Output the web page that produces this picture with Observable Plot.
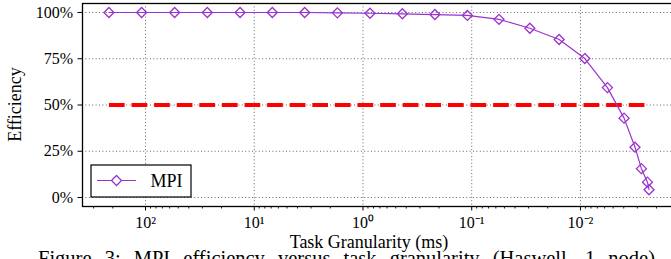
<!DOCTYPE html>
<html><head><meta charset="utf-8">
<script src="https://cdn.jsdelivr.net/npm/d3@7"></script>
<script src="https://cdn.jsdelivr.net/npm/@observablehq/plot@0.6"></script>
<style>
html,body{margin:0;padding:0;overflow:hidden;background:#fff;}
body{width:671px;height:259px;font-family:"Liberation Serif",serif;}
#chart{width:700px;height:252px;overflow:visible;}
#caption{font-family:"Liberation Serif",serif;font-size:20.5px;line-height:20px;word-spacing:8px;white-space:nowrap;margin-left:38px;margin-top:-4px;color:#000;}
svg{display:block;max-width:none !important;width:700px !important;height:252px !important;}
svg, svg text, svg g{font-family:"Liberation Serif",serif !important;font-variant:normal !important;font-variant-numeric:normal !important;}
</style></head><body>
<div id="chart"></div>
<div id="caption">Figure 3: MPI efficiency versus task granularity (Haswell, 1 node)</div>
<script>
// Task granularity (ms) and efficiency (%)
const granularity = [217, 108.6, 54, 27, 13.5, 6.82, 3.44, 1.72, 0.862, 0.434, 0.218, 0.1096, 0.0561, 0.0292, 0.0157, 0.00912, 0.00565, 0.00397, 0.00315, 0.00275, 0.00242, 0.00234];
const efficiency  = [100, 100, 100, 100, 100, 100, 100, 99.8, 99.6, 99.3, 98.9, 98.4, 96.3, 91.5, 85.4, 75.1, 59.4, 42.9, 27.2, 15.6, 8.3, 4.2];
const thresholdValue = 50;
const seriesName = "MPI";
const xTicks = [100, 10, 1, 0.1, 0.01];
const xTickLabels = ["10²", "10¹", "10⁰", "10⁻¹", "10⁻²"];
const yTicks = [0, 25, 50, 75, 100];
const yTickLabels = ["0%", "25%", "50%", "75%", "100%"];
const xLabel = "Task Granularity (ms)";
const yLabel = "Efficiency";

const data = granularity.map((g, i) => ({g, e: efficiency[i]}));
const threshold = [
  {g: granularity[0], e: thresholdValue},
  {g: granularity[granularity.length - 1], e: thresholdValue}
];
const minorTicks = [];
for (let k = -3; k <= 2; k++) for (let m = 2; m <= 9; m++) minorTicks.push(m * Math.pow(10, k));

const purple = "#9933cc";
const W = 700, H = 252;
const plot = Plot.plot({
  width: W, height: H,
  marginLeft: 82, marginRight: 0, marginTop: 3, marginBottom: H - 206,
  style: {fontFamily: "'Liberation Serif', serif", fontSize: "16px", fontVariant: "normal", background: "white", color: "black", overflow: "visible"},
  x: {type: "log", domain: [379.8, 0.000787], label: null},
  y: {domain: [-4.86, 104.86], label: null},
  marks: [
    Plot.gridX(xTicks, {stroke: "#555", strokeOpacity: 1, strokeWidth: 0.9, strokeDasharray: "1,2.4"}),
    Plot.gridY(yTicks, {stroke: "#555", strokeOpacity: 1, strokeWidth: 0.9, strokeDasharray: "1,2.4"}),
    Plot.axisX(minorTicks.filter(v => v < 379 && v > 0.0008), {tickSize: 2.5, tickFormat: () => "", label: null, strokeWidth: 0.9}),
    Plot.axisX(xTicks, {tickSize: 4.5, tickPadding: 6, tickFormat: d => xTickLabels[xTicks.indexOf(d)], label: null, fontSize: 16, fontVariant: "normal"}),
    Plot.axisY(yTicks, {tickSize: 4.5, tickPadding: 5, tickFormat: d => yTickLabels[yTicks.indexOf(d)], label: null, fontSize: 16, fontVariant: "normal"}),
    Plot.line(threshold, {x: "g", y: "e", stroke: "#ff0000", strokeWidth: 4, strokeDasharray: "15.7,6.9", strokeLinecap: "butt"}),
    Plot.line(data, {x: "g", y: "e", stroke: purple, strokeWidth: 1.2}),
    Plot.dot(data, {x: "g", y: "e", symbol: "diamond2", r: 4.5, stroke: purple, fill: "none", strokeWidth: 1.3}),
    Plot.frame({stroke: "black", strokeWidth: 1.3})
  ]
});
document.getElementById("chart").appendChild(plot);

const svg = d3.select(plot);
svg.selectAll("g").style("font-family", "'Liberation Serif', serif").style("font-variant", "normal");
svg.selectAll("text").style("font-family", "'Liberation Serif', serif").style("font-variant", "normal");
// axis titles
svg.append("text").attr("transform", "translate(21,104.5) rotate(-90)")
  .attr("text-anchor", "middle").attr("font-size", 18)
  .attr("fill", "black").text(yLabel);
svg.append("text").attr("x", 369).attr("y", 248)
  .attr("text-anchor", "middle").attr("font-size", 18)
  .attr("fill", "black").text(xLabel);
// legend
const lg = svg.append("g");
lg.append("rect").attr("x", 91).attr("y", 165).attr("width", 100).attr("height", 32)
  .attr("fill", "white").attr("stroke", "black").attr("stroke-width", 1.2);
lg.append("line").attr("x1", 97).attr("x2", 136).attr("y1", 180.5).attr("y2", 180.5)
  .attr("stroke", purple).attr("stroke-width", 1.2);
lg.append("path").attr("d", d3.symbol(d3.symbolDiamond2, Math.PI * 4.5 * 4.5)())
  .attr("transform", "translate(116.5,180.5)").attr("fill", "white").attr("stroke", purple).attr("stroke-width", 1.3);
lg.append("text").attr("x", 150.5).attr("y", 186.5).attr("font-size", 18).attr("text-anchor", "start")
  .attr("fill", "black").text(seriesName);
</script>
</body></html>
